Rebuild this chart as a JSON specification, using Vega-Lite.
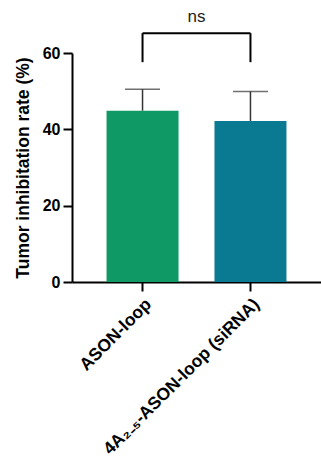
{
  "$schema": "https://vega.github.io/schema/vega-lite/v6.json",
  "autosize": {"type": "none"},
  "width": 249,
  "height": 229,
  "padding": {"left": 72, "top": 53, "right": 0, "bottom": 177},
  "background": "white",
  "config": {
    "view": {"stroke": null},
    "font": "Liberation Sans"
  },
  "datasets": {
    "bars": [
      {"group": "ASON-loop", "mean": 44.9, "upper": 50.5},
      {"group": "4A₂₋₅-ASON-loop (siRNA)", "mean": 42.2, "upper": 49.9}
    ],
    "bracket": [
      {"from": "ASON-loop", "to": "4A₂₋₅-ASON-loop (siRNA)", "y": 65.2, "ylow": 57.6, "label": "ns", "ytext": 69.4}
    ]
  },
  "encoding": {
    "x": {
      "field": "group",
      "type": "nominal",
      "sort": null,
      "scale": {"domain": ["ASON-loop", "4A₂₋₅-ASON-loop (siRNA)"], "paddingInner": 0.333, "paddingOuter": 0.32},
      "axis": {
        "title": null,
        "labelAngle": -45,
        "labelFontSize": 17.5,
        "labelFontWeight": "bold",
        "labelColor": "black",
        "labelPadding": 4,
        "labelLimit": 300,
        "domainColor": "black",
        "domainWidth": 2,
        "tickColor": "black",
        "tickWidth": 2,
        "tickSize": 9
      }
    }
  },
  "layer": [
    {
      "data": {"name": "bars"},
      "mark": {"type": "bar"},
      "encoding": {
        "y": {
          "field": "mean",
          "type": "quantitative",
          "scale": {"domain": [0, 60], "nice": false},
          "axis": {
            "title": "Tumor inhibitation  rate (%)",
            "titleFontSize": 17.5,
            "titleFontWeight": "bold",
            "titleColor": "black",
            "titlePadding": 10,
            "values": [0, 20, 40, 60],
            "grid": false,
            "labelFontSize": 16,
            "labelFontWeight": "bold",
            "labelColor": "black",
            "labelPadding": 3,
            "domainColor": "black",
            "domainWidth": 2,
            "tickColor": "black",
            "tickWidth": 2,
            "tickSize": 9
          }
        },
        "color": {
          "field": "group",
          "type": "nominal",
          "scale": {"domain": ["ASON-loop", "4A₂₋₅-ASON-loop (siRNA)"], "range": ["#0f9964", "#0a7a92"]},
          "legend": null
        }
      }
    },
    {
      "data": {"name": "bars"},
      "mark": {"type": "rule", "color": "#333333", "strokeWidth": 1.5},
      "encoding": {
        "y": {"field": "mean", "type": "quantitative"},
        "y2": {"field": "upper"}
      }
    },
    {
      "data": {"name": "bars"},
      "mark": {"type": "tick", "color": "#333333", "thickness": 1.5, "size": 35},
      "encoding": {
        "y": {"field": "upper", "type": "quantitative"}
      }
    },
    {
      "data": {"name": "bracket"},
      "mark": {"type": "rule", "color": "black", "strokeWidth": 2, "clip": false},
      "encoding": {
        "x": {"field": "from", "type": "nominal"},
        "x2": {"field": "to"},
        "y": {"field": "y", "type": "quantitative"}
      }
    },
    {
      "data": {"name": "bracket"},
      "mark": {"type": "rule", "color": "black", "strokeWidth": 2, "clip": false},
      "encoding": {
        "x": {"field": "from", "type": "nominal"},
        "y": {"field": "ylow", "type": "quantitative"},
        "y2": {"field": "y"}
      }
    },
    {
      "data": {"name": "bracket"},
      "mark": {"type": "rule", "color": "black", "strokeWidth": 2, "clip": false},
      "encoding": {
        "x": {"field": "to", "type": "nominal"},
        "y": {"field": "ylow", "type": "quantitative"},
        "y2": {"field": "y"}
      }
    },
    {
      "data": {"name": "bracket"},
      "mark": {"type": "text", "fontSize": 17, "color": "#222222", "baseline": "middle", "clip": false, "dx": 54},
      "encoding": {
        "x": {"field": "from", "type": "nominal"},
        "y": {"field": "ytext", "type": "quantitative"},
        "text": {"field": "label"}
      }
    }
  ]
}
